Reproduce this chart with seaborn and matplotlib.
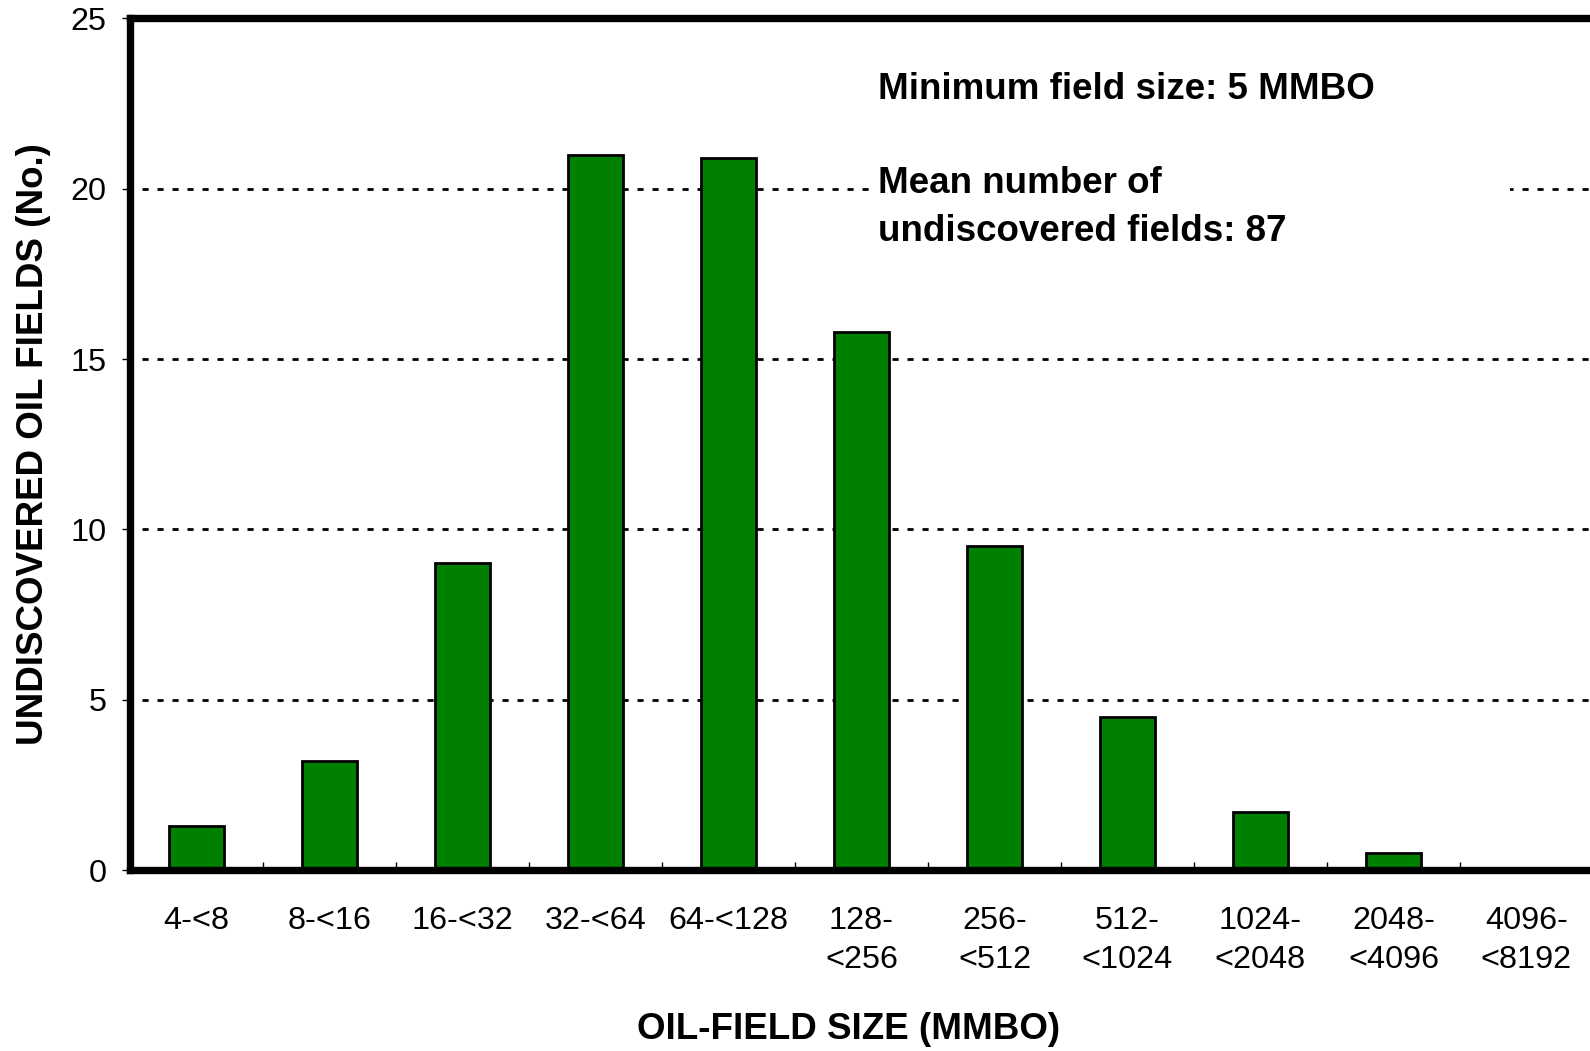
import matplotlib
matplotlib.use("Agg")
import matplotlib.pyplot as plt
import matplotlib.patches as mpatches
from matplotlib.ticker import FixedLocator
import seaborn as sns

size_classes = ['4-<8', '8-<16', '16-<32', '32-<64', '64-<128', '128-\n<256',
                '256-\n<512', '512-\n<1024', '1024-\n<2048', '2048-\n<4096', '4096-\n<8192']
field_counts = [1.3, 3.2, 9.0, 21.0, 20.9, 15.8, 9.5, 4.5, 1.7, 0.5, 0.0]
y_ticks = [0, 5, 10, 15, 20, 25]
grid_levels = [5, 10, 15, 20]

sns.set_style('white')
plt.rcParams['font.family'] = ['Liberation Sans', 'DejaVu Sans']
for key in ['text.color', 'axes.labelcolor', 'xtick.color', 'ytick.color']:
    plt.rcParams[key] = 'black'

fig = plt.figure(figsize=(15.9, 10.51), dpi=100)
ax = fig.add_axes([0.0818, 0.1722, 0.920, 0.8102])

for g in grid_levels:
    ax.axhline(g, xmin=0.008, color='black', lw=2, linestyle=(0, (2.2, 3.2)), zorder=0.5)

sns.barplot(x=size_classes, y=field_counts, color='#008000', saturation=1,
            width=0.41, edgecolor='black', linewidth=2, ax=ax, zorder=2)

ax.set_xlim(-0.5, 10.5)
ax.set_ylim(0, 25)
ax.set_yticks(y_ticks)

ax.xaxis.set_minor_locator(FixedLocator([i + 0.5 for i in range(10)]))
ax.tick_params(axis='x', which='major', length=0, pad=26, labelsize=23.3)
ax.tick_params(axis='x', which='minor', direction='in', length=6, width=1, bottom=True)
ax.tick_params(axis='y', which='major', direction='out', length=6, width=1, left=True,
               pad=11, labelsize=23.3)
for lbl in ax.get_xticklabels():
    lbl.set_linespacing(1.38)

for side in ['left', 'bottom', 'top']:
    ax.spines[side].set_linewidth(5.3)
    ax.spines[side].set_color('black')
ax.spines['right'].set_visible(False)

ax.set_xlabel('OIL-FIELD SIZE (MMBO)', fontsize=26.5, fontweight='bold', labelpad=27)
ax.xaxis.label.set_x(0.4915)
ax.set_ylabel('UNDISCOVERED OIL FIELDS (No.)', fontsize=26.5, fontweight='bold', labelpad=14)

# white box that hides the grid behind the notes
box = mpatches.Rectangle((0.5093, 0.735), 0.434, 0.22, transform=ax.transAxes,
                         facecolor='white', edgecolor='none', zorder=3)
ax.add_patch(box)
ax.text(0.5114, 0.937, 'Minimum field size: 5 MMBO\n\nMean number of\nundiscovered fields: 87',
        transform=ax.transAxes, fontsize=26.5, fontweight='bold', va='top', ha='left',
        linespacing=1.45, zorder=4)

fig.savefig('out.png', dpi=100)
